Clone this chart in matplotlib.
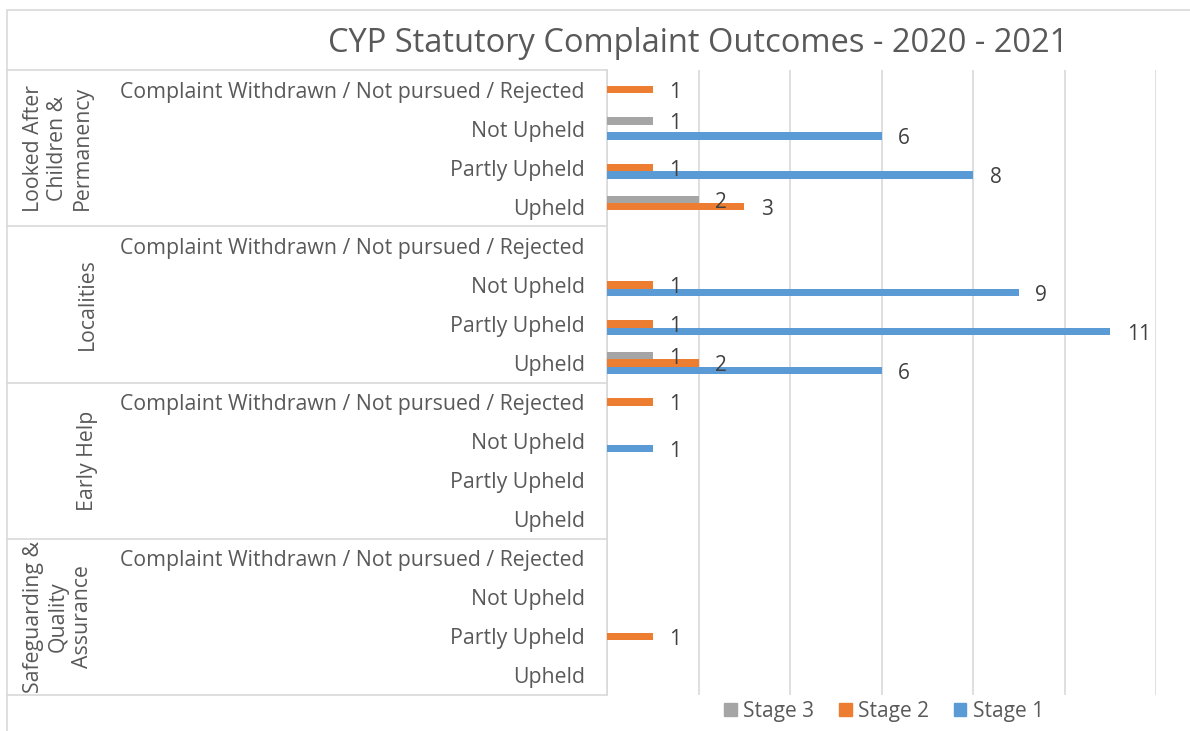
import numpy as np
import matplotlib.pyplot as plt
from matplotlib.patches import Rectangle, Patch
from matplotlib.lines import Line2D

# outcome categories within each service area (top to bottom)
outcomes = ["Complaint Withdrawn / Not pursued / Rejected", "Not Upheld", "Partly Upheld", "Upheld"]
groups = ["Looked After\nChildren &\nPermanency", "Localities", "Early Help",
          "Safeguarding &\nQuality\nAssurance"]

stage1 = [0, 6, 8, 0,   0, 9, 11, 6,   0, 1, 0, 0,   0, 0, 0, 0]
stage2 = [1, 0, 1, 3,   0, 1, 1, 2,    1, 0, 0, 0,   0, 0, 1, 0]
stage3 = [0, 1, 0, 2,   0, 0, 0, 1,    0, 0, 0, 0,   0, 0, 0, 0]

c1, c2, c3 = "#5B9BD5", "#ED7D31", "#A5A5A5"
txt = "#595959"
grid = "#D9D9D9"

plt.rcParams['font.family'] = ['Open Sans', 'DejaVu Sans']

W, H = 1190, 731
fig = plt.figure(figsize=(W / 100, H / 100), dpi=100)

# outer chart border
fig.add_artist(Rectangle((7 / W, -0.1), 1.2, 1 - 10 / H + 0.1, transform=fig.transFigure,
                         fill=False, ec=grid, lw=1.2))

left, right, top, bot = 607, 1156, 70, 695
ax = fig.add_axes([left / W, 1 - bot / H, (right - left) / W, (bot - top) / H])

labels = outcomes * len(groups)
y = np.arange(len(labels))
bh = 0.19
off = 0.19

for vals, col, dy in [(stage3, c3, -off), (stage2, c2, 0), (stage1, c1, off)]:
    v = np.array(vals, dtype=float)
    m = v > 0
    ax.barh(y[m] + dy, v[m], height=bh, color=col, zorder=3)
    for yy, vv in zip(y[m] + dy, v[m]):
        ax.annotate(f"{int(vv)}", (vv, yy), xytext=(12, -2), textcoords="offset points",
                    ha="left", va="center", fontsize=15, color="#404040", zorder=4)

ax.set_xlim(0, 12)
ax.set_ylim(len(labels) - 0.5, -0.5)
ax.set_xticks(np.arange(0, 13, 2))
ax.xaxis.grid(True, color=grid, lw=1.2, zorder=0)
ax.set_xticklabels([])
ax.tick_params(axis="x", length=0)
ax.set_yticks(y)
ax.set_yticklabels(labels, fontsize=15.3, color=txt)
ax.tick_params(axis="y", length=0, pad=16)
for s in ["top", "right", "bottom"]:
    ax.spines[s].set_visible(False)
ax.spines["left"].set_color(grid)
ax.spines["left"].set_linewidth(1.2)

# group boxes
bounds = np.linspace(top, bot, len(groups) + 1)
for b in bounds:
    fig.add_artist(Line2D([7 / W, left / W], [1 - b / H, 1 - b / H], color=grid, lw=1.2))
for i, g in enumerate(groups):
    yc = 1 - (bounds[i] + bounds[i + 1]) / 2 / H
    xc = 58 if "\n" in g else 87
    fig.text(xc / W, yc, g, rotation=90, ha="center", va="center", fontsize=15.3,
             color=txt, multialignment="center", linespacing=1.2)

fig.text(698 / W, 1 - 44 / H, "CYP Statutory Complaint Outcomes - 2020 - 2021",
         ha="center", va="center", fontsize=23.5, color=txt)

handles = [Patch(color=c3, label="Stage 3"), Patch(color=c2, label="Stage 2"),
           Patch(color=c1, label="Stage 1")]
fig.legend(handles=handles, loc="center", bbox_to_anchor=(884 / W, 1 - 711 / H), ncol=3,
           frameon=False, fontsize=15, handlelength=0.6, handleheight=0.6,
           handletextpad=0.3, columnspacing=1.2, labelcolor=txt)

fig.savefig("out.png", dpi=100)
